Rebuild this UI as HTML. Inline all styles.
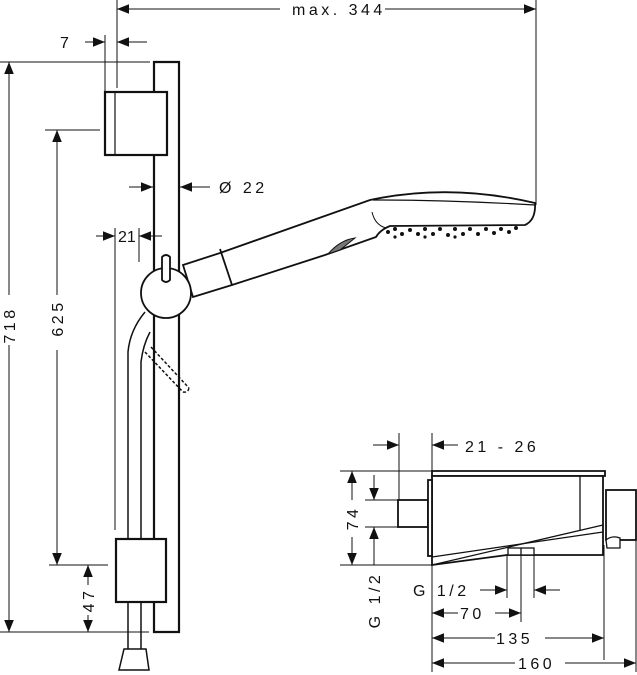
<!DOCTYPE html>
<html><head><meta charset="utf-8"><style>
html,body{margin:0;padding:0;background:#fff;}
svg{display:block;}
text{font-family:"Liberation Sans",sans-serif;font-size:16px;fill:#111;letter-spacing:3.5px;}
</style></head><body>
<svg width="637" height="675" viewBox="0 0 637 675" xmlns="http://www.w3.org/2000/svg">
<defs>
<marker id="a" viewBox="0 0 10 10" refX="10" refY="5" markerWidth="12" markerHeight="12" markerUnits="userSpaceOnUse" orient="auto"><path d="M0,1 L10,5 L0,9 z" fill="#111"/></marker>
</defs>
<g stroke="#111" fill="none" stroke-width="1">
<line x1="117" y1="0" x2="117" y2="88"/>
<line x1="536" y1="0" x2="536" y2="205"/>
<line x1="105" y1="35" x2="105" y2="92"/>
<line x1="0" y1="62" x2="150" y2="62"/>
<line x1="45" y1="130" x2="100" y2="130"/>
<line x1="49" y1="565" x2="108" y2="565"/>
<line x1="0" y1="632" x2="149" y2="632"/>
<line x1="115" y1="228" x2="115" y2="530"/>
<line x1="139" y1="228" x2="139" y2="262"/>
<line x1="280" y1="9" x2="117" y2="9" marker-end="url(#a)"/>
<line x1="385" y1="9" x2="536" y2="9" marker-end="url(#a)"/>
<line x1="85" y1="42" x2="105" y2="42" marker-end="url(#a)"/>
<line x1="147" y1="42" x2="117" y2="42" marker-end="url(#a)"/>
<line x1="9" y1="345" x2="9" y2="632" marker-end="url(#a)"/>
<line x1="9" y1="295" x2="9" y2="62" marker-end="url(#a)"/>
<line x1="57" y1="350" x2="57" y2="565" marker-end="url(#a)"/>
<line x1="57" y1="295" x2="57" y2="130" marker-end="url(#a)"/>
<line x1="88" y1="585" x2="88" y2="565" marker-end="url(#a)"/>
<line x1="88" y1="615" x2="88" y2="632" marker-end="url(#a)"/>
<line x1="129" y1="187" x2="153" y2="187" marker-end="url(#a)"/>
<line x1="210" y1="187" x2="180" y2="187" marker-end="url(#a)"/>
<line x1="96" y1="236" x2="115" y2="236" marker-end="url(#a)"/>
<line x1="162" y1="236" x2="139" y2="236" marker-end="url(#a)"/>
</g>
<text x="292" y="15">max. 344</text>
<text x="60" y="48">7</text>
<text x="219" y="193">Ø 22</text>
<text x="118" y="242" style="letter-spacing:0">21</text>
<text transform="translate(15,325) rotate(-90)" text-anchor="middle">718</text>
<text transform="translate(63,318) rotate(-90)" text-anchor="middle">625</text>
<text transform="translate(94,600) rotate(-90)" text-anchor="middle">47</text>

<g stroke="#111" fill="none" stroke-width="2.2">
<path d="M154,92 V62 H179 V632 H154 V602"/>
<line x1="154" y1="155" x2="154" y2="539"/>
<rect x="105" y="92" width="62" height="63" fill="#fff"/>
<rect x="116" y="539" width="50" height="63" fill="#fff"/>
</g>
<line x1="115" y1="92" x2="115" y2="155" stroke="#111" stroke-width="1.2"/>
<g stroke="#111" fill="none" stroke-width="1.5">
<path d="M128,539 V352 Q130,330 145,312"/>
<path d="M141,539 V362 Q143,345 150,332"/>
<line x1="128" y1="602" x2="128" y2="650"/>
<line x1="141" y1="602" x2="141" y2="650"/>
<path d="M124,649 H146 L149,670 H119 Z" fill="#fff"/>
</g>
<g stroke="#111" stroke-width="1.5" stroke-dasharray="3,2" fill="none">
<line x1="145" y1="352" x2="183" y2="392"/>
<line x1="151" y1="347" x2="189" y2="388"/>
<path d="M183,392 Q188,393 189,388"/>
</g>
<g stroke="#111" fill="#fff" stroke-width="1.8">
<path d="M183,265 L220,253 L370,200 Q450,183 535,203 Q536,220 525,225 L390,226 Q380,230 376,237 L325,255 L232,285 L193,297 Z"/>
<line x1="220" y1="249" x2="232" y2="285"/>
<circle cx="166" cy="293" r="25"/>
<path d="M162,280 L162,257 Q166,253 170,257 L170,280 Q166,284 162,280 Z"/>
</g>
<path d="M373,200 Q450,200 535,205" stroke="#111" fill="none" stroke-width="1.2"/>
<path d="M328,254 Q340,240 355,238 L340,250 Z" stroke="#111" fill="#777" stroke-width="1"/>
<path d="M372,212 Q375,225 386,228" stroke="#111" fill="none"/>
<g fill="#111">
<circle cx="388" cy="232" r="2"/><circle cx="395" cy="229" r="2"/><circle cx="402" cy="234" r="2"/><circle cx="410" cy="230" r="2"/><circle cx="418" cy="234" r="2"/><circle cx="425" cy="229" r="2"/><circle cx="433" cy="234" r="2"/><circle cx="440" cy="229" r="2"/><circle cx="448" cy="235" r="2"/><circle cx="455" cy="229" r="2"/><circle cx="463" cy="234" r="2"/><circle cx="470" cy="229" r="2"/><circle cx="478" cy="234" r="2"/><circle cx="486" cy="229" r="2"/><circle cx="494" cy="233" r="2"/><circle cx="501" cy="229" r="2"/><circle cx="509" cy="232" r="2"/><circle cx="516" cy="228" r="2"/><circle cx="395" cy="237" r="1.6"/><circle cx="425" cy="237" r="1.6"/><circle cx="455" cy="237" r="1.6"/>
</g>

<g stroke="#111" fill="none" stroke-width="1">
<line x1="399" y1="433" x2="399" y2="500"/>
<line x1="432" y1="433" x2="432" y2="672"/>
<line x1="340" y1="471" x2="432" y2="471"/>
<line x1="340" y1="565" x2="432" y2="565"/>
<line x1="365" y1="500" x2="400" y2="500"/>
<line x1="365" y1="527" x2="400" y2="527"/>
<line x1="507" y1="555" x2="507" y2="598"/>
<line x1="521" y1="555" x2="521" y2="622"/>
<line x1="534" y1="555" x2="534" y2="598"/>
<line x1="604" y1="545" x2="604" y2="660"/>
<line x1="636" y1="540" x2="636" y2="672"/>
<line x1="373" y1="445" x2="399" y2="445" marker-end="url(#a)"/>
<line x1="458" y1="445" x2="432" y2="445" marker-end="url(#a)"/>
<line x1="352" y1="500" x2="352" y2="471" marker-end="url(#a)"/>
<line x1="352" y1="537" x2="352" y2="565" marker-end="url(#a)"/>
<line x1="374" y1="475" x2="374" y2="500" marker-end="url(#a)"/>
<line x1="374" y1="565" x2="374" y2="527" marker-end="url(#a)"/>
<line x1="480" y1="590" x2="507" y2="590" marker-end="url(#a)"/>
<line x1="560" y1="590" x2="534" y2="590" marker-end="url(#a)"/>
<line x1="458" y1="613" x2="432" y2="613" marker-end="url(#a)"/>
<line x1="495" y1="613" x2="521" y2="613" marker-end="url(#a)"/>
<line x1="495" y1="638" x2="432" y2="638" marker-end="url(#a)"/>
<line x1="545" y1="638" x2="604" y2="638" marker-end="url(#a)"/>
<line x1="515" y1="663" x2="432" y2="663" marker-end="url(#a)"/>
<line x1="565" y1="663" x2="636" y2="663" marker-end="url(#a)"/>
</g>
<g stroke="#111" fill="#fff" stroke-width="1.8">
<rect x="398" y="500" width="30" height="27"/>
<rect x="606" y="490" width="30" height="50"/>
<path d="M432,471 H605 V476 H432 Z"/>
<path d="M432,476 H603 V555 H507 L432,565 Z"/>
<rect x="428" y="480" width="4" height="76"/>
</g>
<g stroke="#111" fill="none" stroke-width="1.3">
<path d="M432,565 L603,525"/>
<path d="M432,557 L603,532"/>
<line x1="580" y1="476" x2="580" y2="530"/>
<rect x="508" y="548" width="26" height="7" fill="#fff"/>
<line x1="521" y1="548" x2="521" y2="555"/>
<path d="M606,540 Q612,535 620,538 V548 H607 Z" fill="#fff"/>
</g>
<text x="465" y="452">21 - 26</text>
<text x="413" y="596">G 1/2</text>
<text x="460" y="619">70</text>
<text x="496" y="644">135</text>
<text x="518" y="669">160</text>
<text transform="translate(358,518) rotate(-90)" text-anchor="middle">74</text>
<text transform="translate(380,600) rotate(-90)" text-anchor="middle">G 1/2</text>
</svg>
</body></html>
